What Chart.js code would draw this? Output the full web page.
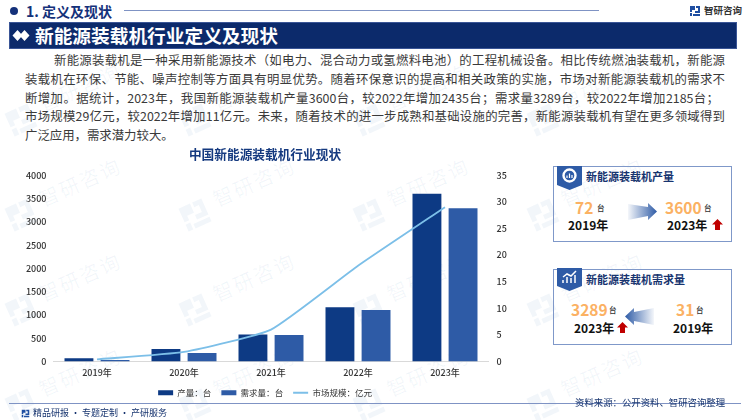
<!DOCTYPE html>
<html lang="zh">
<head>
<meta charset="utf-8">
<script src="https://cdn.jsdelivr.net/npm/chart.js@4"></script>
<style>
  * { box-sizing: border-box; margin: 0; padding: 0; }
  html, body { width: 750px; height: 420px; overflow: hidden; background: #fff; }
  body { position: relative; font-family: "Noto Sans CJK SC", sans-serif; color: #333; }
  .abs { position: absolute; white-space: nowrap; }
  .wm { position: absolute; color: rgba(40,100,170,.06); font-size: 20px; letter-spacing: 2px; transform: rotate(-24deg); white-space: nowrap; line-height: 24px; }
  .wm-logo { position: absolute; width: 34px; height: 30px; transform: rotate(-24deg); }
  .line { position: absolute; left: 25px; width: 700px; font-size: 12.4px; line-height: 19px; height: 19px; color: #3a3a3a; text-align: justify; text-align-last: justify; white-space: nowrap; }
  .panel { position: absolute; left: 553px; width: 179px; height: 76px; border: 1px solid #7f98c9; }
  .ptitle { position: absolute; color: #17346f; font-size: 11px; font-weight: 700; white-space: nowrap; }
  .num { position: absolute; color: #fbb163; font-size: 15.5px; font-weight: 700; white-space: nowrap; line-height: 18px; }
  .unit { position: absolute; color: #333; font-size: 7.5px; font-weight: 500; white-space: nowrap; line-height: 10px; }
  .yr { position: absolute; color: #111; font-size: 12px; font-weight: 700; white-space: nowrap; line-height: 16px; }
  #chartBox { position: absolute; left: 15px; top: 145px; width: 500px; height: 262px; }
</style>
</head>
<body>
<div id="marks"></div>

<!-- header -->
<div class="abs" style="left:10px;top:7px;width:8px;height:8px;border-radius:50%;background:#14317a"></div>
<div class="abs" style="left:26px;top:1px;font-size:14px;font-weight:700;color:#14317a;line-height:20px">1. 定义及现状</div>
<div class="abs" style="left:124px;top:10px;width:475px;height:1px;background:#7f93c4"></div>
<svg class="abs" style="left:689px;top:5px" width="12" height="12" viewBox="0 0 12 12">
  <path d="M1 1h5v4H3v2H1zM7 1h4v7H6V6h3V3H7zM1 8h2v3H1zM4 9h7v2H4z" fill="#1f4ea1"/>
</svg>
<div class="abs" style="left:704px;top:1px;font-size:9.5px;font-weight:700;color:#333;line-height:18px">智研咨询</div>

<div class="abs" style="left:9px;top:22px;width:728px;height:27px;background:#0c2a6b;border:1px solid #3a5596"></div>
<svg class="abs" style="left:12px;top:30px" width="18" height="11" viewBox="0 0 18 11">
  <path d="M5.5 0l5 5.5-5 5.5-5-5.5zM12.5 0l5 5.5-5 5.5-5-5.5z" fill="#fff"/>
</svg>
<div class="abs" style="left:35px;top:21px;font-size:18.7px;font-weight:700;color:#fff;line-height:27px">新能源装载机行业定义及现状</div>

<!-- paragraph -->
<div class="line" style="top:51px;left:54px;width:671px">新能源装载机是一种采用新能源技术（如电力、混合动力或氢燃料电池）的工程机械设备。相比传统燃油装载机，新能源</div>
<div class="line" style="top:70px">装载机在环保、节能、噪声控制等方面具有明显优势。随着环保意识的提高和相关政策的实施，市场对新能源装载机的需求不</div>
<div class="line" style="top:89px;width:694px">断增加。据统计，2023年，我国新能源装载机产量3600台，较2022年增加2435台；需求量3289台，较2022年增加2185台；</div>
<div class="line" style="top:107px">市场规模29亿元，较2022年增加11亿元。未来，随着技术的进一步成熟和基础设施的完善，新能源装载机有望在更多领域得到</div>
<div class="line" style="top:126px;width:auto;text-align-last:left">广泛应用，需求潜力较大。</div>

<!-- chart -->
<div id="chartBox"><canvas id="industryChart" width="500" height="262"></canvas></div>

<!-- panel 1 -->
<div class="panel" style="top:166px"></div>
<svg class="abs" style="left:557px;top:166px" width="25" height="24" viewBox="0 0 25 24">
  <path d="M0 0h25v19l-12.5 5L0 19z" fill="#2e5ba6"/>
  <circle cx="12.5" cy="9.5" r="6" fill="none" stroke="#fff" stroke-width="2.4"/>
  <path d="M10 12V9.5M12.5 12V7.5M15 12v-3" stroke="#fff" stroke-width="1.2"/>
</svg>
<div class="ptitle" style="left:586px;top:166px;line-height:20px">新能源装载机产量</div>
<div class="num" style="left:575px;top:198px">72</div>
<div class="unit" style="left:597px;top:203px">台</div>
<div class="yr" style="left:568px;top:217px">2019年</div>
<svg class="abs" style="left:628px;top:202px" width="30" height="20" viewBox="0 0 30 20">
  <defs><linearGradient id="gradR" x1="0" x2="1"><stop offset="0" stop-color="#2e5ba6" stop-opacity=".05"/><stop offset="1" stop-color="#2e5ba6"/></linearGradient></defs>
  <path d="M0 2l20 3V1l9 8.5-9 8.5v-4L0 18z" fill="url(#gradR)"/>
</svg>
<div class="num" style="left:665px;top:198px">3600</div>
<div class="unit" style="left:704px;top:203px">台</div>
<div class="yr" style="left:667px;top:217px">2023年</div>
<svg class="abs" style="left:712px;top:219px" width="11" height="11" viewBox="0 0 11 11"><path d="M5.5 0L11 5.5H8V11H3V5.5H0z" fill="#c00000"/></svg>

<!-- panel 2 -->
<div class="panel" style="top:269px"></div>
<svg class="abs" style="left:557px;top:268px" width="25" height="23" viewBox="0 0 25 23">
  <path d="M0 0h25v18l-12.5 5L0 18z" fill="#2e5ba6"/>
  <path d="M6 15v-3M10 15V9M14 15v-5M18 15V7M6 9l4-3 4 2 5-5" stroke="#fff" stroke-width="1.5" fill="none"/>
</svg>
<div class="ptitle" style="left:586px;top:269px;line-height:20px">新能源装载机需求量</div>
<div class="num" style="left:571px;top:300px">3289</div>
<div class="unit" style="left:609px;top:305px">台</div>
<div class="yr" style="left:574px;top:320px">2023年</div>
<svg class="abs" style="left:617px;top:322px" width="11" height="11" viewBox="0 0 11 11"><path d="M5.5 0L11 5.5H8V11H3V5.5H0z" fill="#c00000"/></svg>
<svg class="abs" style="left:624px;top:307px" width="30" height="20" viewBox="0 0 30 20">
  <defs><linearGradient id="gradL" x1="1" x2="0"><stop offset="0" stop-color="#2e5ba6" stop-opacity=".05"/><stop offset="1" stop-color="#2e5ba6"/></linearGradient></defs>
  <path d="M30 1L10 5V1L1 9.5 10 18v-4l20 4z" fill="url(#gradL)"/>
</svg>
<div class="num" style="left:676px;top:300px">31</div>
<div class="unit" style="left:696px;top:305px">台</div>
<div class="yr" style="left:673px;top:320px">2019年</div>

<!-- footer -->
<div class="abs" style="left:9px;top:403px;width:732px;height:1px;background:#7f93c4"></div>
<svg class="abs" style="left:21px;top:409px" width="9" height="9" viewBox="0 0 12 12">
  <path d="M1 1h5v4H3v2H1zM7 1h4v7H6V6h3V3H7zM1 8h2v3H1zM4 9h7v2H4z" fill="#1f4ea1"/>
</svg>
<div class="abs" style="left:33px;top:405px;font-size:9px;color:#17346f;line-height:16px">精品研报 · 专题定制 · 产研服务</div>
<div class="abs" style="left:575px;top:394px;font-size:9.4px;color:#17346f;line-height:16px">资料来源：公开资料、智研咨询整理</div>

<script>
// chart data
const years = ['2019年', '2020年', '2021年', '2022年', '2023年'];
const outputUnits = [72, 270, 580, 1165, 3600];
const demandUnits = [31, 180, 570, 1104, 3289];
const marketSize = [0.4, 1.8, 6, 18, 29];
const unitTicks = [0, 500, 1000, 1500, 2000, 2500, 3000, 3500, 4000];
const sizeTicks = [0, 5, 10, 15, 20, 25, 30, 35];
const legendOrder = ['产量：台', '需求量：台', '市场规模：亿元'];

const tickFont = { family: '"Noto Sans CJK SC", sans-serif', size: 9, weight: '500' };

// faint watermark tiles behind everything
const marks = document.getElementById('marks');
for (let row = 0; row < 4; row++) {
    for (let col = 0; col < 4; col++) {
        const x = 36 + col * 174;
        const y = 75 + row * 95;
        const text = document.createElement('div');
        text.className = 'wm';
        text.style.left = x + 'px';
        text.style.top = y + 'px';
        text.textContent = '智研咨询';
        marks.appendChild(text);
        const logo = document.createElementNS('http://www.w3.org/2000/svg', 'svg');
        logo.setAttribute('class', 'wm-logo');
        logo.setAttribute('viewBox', '0 0 12 12');
        logo.style.left = (x - 32) + 'px';
        logo.style.top = (y + 30) + 'px';
        logo.innerHTML = '<path d="M1 1h5v4H3v2H1zM7 1h4v7H6V6h3V3H7zM1 8h2v3H1zM4 9h7v2H4z" fill="rgba(40,100,170,.06)"/>';
        marks.appendChild(logo);
    }
}

const ctx = document.getElementById('industryChart').getContext('2d');
new Chart(ctx, {
    data: {
        labels: years,
        datasets: [
            {
                type: 'line',
                label: '市场规模：亿元',
                data: marketSize,
                yAxisID: 'ySize',
                borderColor: '#7cbfe8',
                backgroundColor: '#7cbfe8',
                borderWidth: 1.8,
                pointRadius: 0,
                tension: 0.15,
                order: 0
            },
            {
                type: 'bar',
                label: '产量：台',
                data: outputUnits,
                yAxisID: 'yUnits',
                backgroundColor: '#0d3a84',
                barPercentage: 0.8,
                categoryPercentage: 0.83,
                order: 1
            },
            {
                type: 'bar',
                label: '需求量：台',
                data: demandUnits,
                yAxisID: 'yUnits',
                backgroundColor: '#2e5ba6',
                barPercentage: 0.8,
                categoryPercentage: 0.83,
                order: 1
            }
        ]
    },
    options: {
        responsive: false,
        animation: false,
        layout: { padding: 0 },
        plugins: {
            title: {
                display: true,
                text: '中国新能源装载机行业现状',
                color: '#14397f',
                font: { family: '"Noto Sans CJK SC", sans-serif', size: 12.7, weight: '700' },
                padding: { top: 2, bottom: 13 }
            },
            legend: {
                position: 'bottom',
                labels: {
                    color: '#333',
                    font: { family: '"Noto Sans CJK SC", sans-serif', size: 8.5 },
                    usePointStyle: true,
                    pointStyleWidth: 15,
                    boxHeight: 5,
                    padding: 10,
                    sort: (a, b) => legendOrder.indexOf(a.text) - legendOrder.indexOf(b.text),
                    generateLabels: function(chart) {
                        return chart.data.datasets.map((d, i) => ({
                            text: d.label,
                            fillStyle: d.backgroundColor,
                            strokeStyle: d.type === 'line' ? d.borderColor : d.backgroundColor,
                            lineWidth: d.type === 'line' ? 2 : 0,
                            pointStyle: d.type === 'line' ? 'line' : 'rect',
                            fontColor: '#333',
                            datasetIndex: i
                        }));
                    }
                }
            },
            tooltip: { enabled: false }
        },
        scales: {
            x: {
                grid: { display: false, drawTicks: false },
                border: { color: '#d9d9d9' },
                afterFit: axis => { axis.height = 17; },
                ticks: { color: '#333', font: tickFont, padding: 6 }
            },
            yUnits: {
                position: 'left',
                min: 0,
                max: 4000,
                grid: { display: false, drawTicks: false },
                border: { display: false },
                afterBuildTicks: axis => { axis.ticks = unitTicks.map(v => ({ value: v })); },
                afterFit: axis => { axis.width = 38.5; },
                ticks: { color: '#333', font: tickFont, padding: 7, callback: v => String(v) }
            },
            ySize: {
                position: 'right',
                min: 0,
                max: 35,
                grid: { display: false, drawTicks: false },
                border: { display: false },
                afterBuildTicks: axis => { axis.ticks = sizeTicks.map(v => ({ value: v })); },
                afterFit: axis => { axis.width = 26.5; },
                ticks: { color: '#333', font: tickFont, padding: 8, callback: v => String(v) }
            }
        }
    }
});
</script>
</body>
</html>
